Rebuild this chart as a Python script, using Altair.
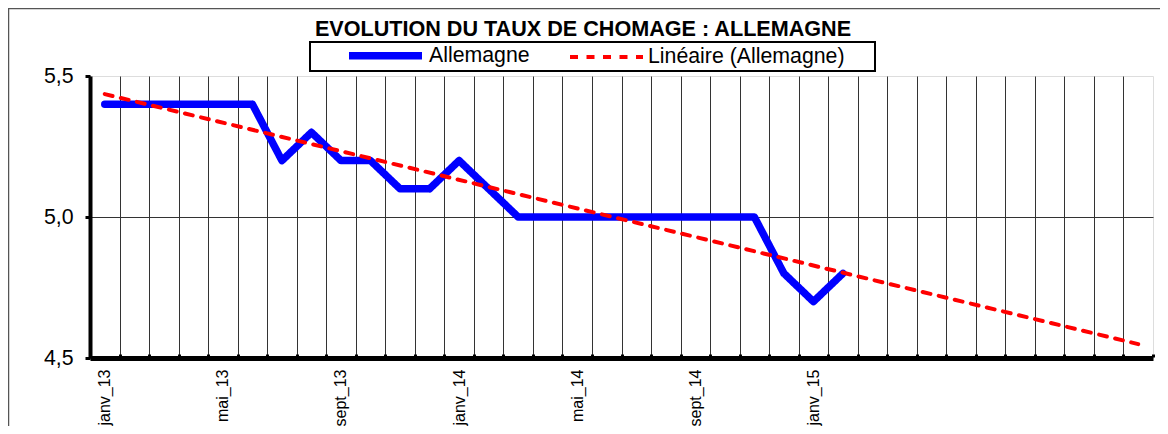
import altair as alt
import pandas as pd

# ---- data ----
months = ["janv_13", "févr_13", "mars_13", "avr_13", "mai_13", "juin_13",
          "juil_13", "août_13", "sept_13", "oct_13", "nov_13", "déc_13",
          "janv_14", "févr_14", "mars_14", "avr_14", "mai_14", "juin_14",
          "juil_14", "août_14", "sept_14", "oct_14", "nov_14", "déc_14",
          "janv_15", "févr_15"]
values = [5.4, 5.4, 5.4, 5.4, 5.4, 5.4, 5.2, 5.3, 5.2, 5.2, 5.1, 5.1,
          5.2, 5.1, 5.0, 5.0, 5.0, 5.0, 5.0, 5.0, 5.0, 5.0, 5.0, 4.8,
          4.7, 4.8]
n_slots = 36                      # category slots on the axis (36 months)
tick_idx = [0, 4, 8, 12, 16, 20, 24]
tick_labels = [months[i] for i in tick_idx]
y_ticks = [4.5, 5.0, 5.5]
series_names = ["Allemagne", "Linéaire (Allemagne)"]
series_colors = ["#0000FF", "#FF0000"]
title_text = "EVOLUTION DU TAUX DE CHOMAGE : ALLEMAGNE"

FONT = "Liberation Sans"
W, H = 1063, 282

df = pd.DataFrame({"idx": list(range(len(values))), "month": months,
                   "value": values, "series": series_names[0]})
boundaries = [i - 0.5 for i in range(n_slots + 1)]

xscale = alt.Scale(domain=[-0.5, n_slots - 0.5], nice=False, zero=False)
yscale = alt.Scale(domain=[4.5, 5.5], nice=False, zero=False)

label_js = "[" + ",".join("'%s'" % s for s in tick_labels) + "][datum.value/4]"

grid_axis = alt.Axis(orient="bottom", values=boundaries, grid=True, gridColor="#333333", gridWidth=1,
                     gridOpacity={"condition": {"test": "datum.value < 35", "value": 1}, "value": 0},
                     domain=False, labels=False, ticks=True, tickSize=3, tickWidth=3,
                     tickColor="black", offset=-4, title=None)
label_axis = alt.Axis(orient="bottom", values=tick_idx, grid=False, ticks=False, domain=True,
                      domainColor="black", domainWidth=5, labelExpr=label_js,
                      labelAngle=270, labelAlign="right", labelBaseline="middle",
                      labelPadding=11, labelFontSize=16, labelFont=FONT,
                      labelColor="black", title=None)
y_axis = alt.Axis(orient="left", values=y_ticks, grid=True, gridColor="#333333", gridWidth=1,
                  gridOpacity={"condition": {"test": "datum.value == 5", "value": 1}, "value": 0},
                  domainColor="black", domainWidth=4, tickColor="black", tickSize=5,
                  tickWidth=3, labelPadding=12, labelFontSize=21.3, labelFont=FONT,
                  labelColor="black",
                  labelExpr="replace(format(datum.value, '.1f'), '.', ',')", title=None)

leg = alt.Legend(orient="none", legendX=255, legendY=-61, direction="horizontal",
                 symbolType="stroke", symbolSize=5329, labelFontSize=21.3, labelFont=FONT,
                 labelColor="black", labelOffset=3, columnPadding=32, padding=0,
                 labelLimit=0, title=None)

enc_common = dict(
    color=alt.Color("series:N", scale=alt.Scale(domain=series_names, range=series_colors), legend=leg),
    strokeDash=alt.StrokeDash("series:N", scale=alt.Scale(domain=series_names, range=[[1, 0], [8, 8.5]]), legend=leg),
    strokeWidth=alt.StrokeWidth("series:N", scale=alt.Scale(domain=series_names, range=[7.5, 4]), legend=leg),
)

one = pd.DataFrame({"k": [0]})
frame = alt.Chart(one).mark_rect(fillOpacity=0, stroke="#555555", strokeWidth=1.5, clip=False).encode(
    x=alt.value(-81.5), x2=alt.value(W + 40), y=alt.value(-67.5), y2=alt.value(H + 120))
legend_box = alt.Chart(one).mark_rect(fillOpacity=0, stroke="black", strokeWidth=2, clip=False).encode(
    x=alt.value(220), x2=alt.value(785), y=alt.value(-34), y2=alt.value(-5))

line = alt.Chart(df).mark_line(strokeCap="round", strokeJoin="round").encode(
    x=alt.X("idx:Q", scale=xscale, axis=grid_axis),
    y=alt.Y("value:Q", scale=yscale, axis=y_axis),
    **enc_common)

trend = alt.Chart(df).transform_regression(
    "idx", "value", method="linear", extent=[0, n_slots - 1]
).transform_calculate(series="'%s'" % series_names[1]).mark_line(strokeCap="round").encode(
    x=alt.X("idx:Q", scale=xscale, axis=label_axis),
    y=alt.Y("value:Q", scale=yscale, axis=y_axis),
    **enc_common)

chart = alt.layer(frame, legend_box, line, trend).resolve_axis(x="independent").properties(
    width=W, height=H,
    autosize=alt.AutoSizeParams(type="none"),
    padding={"left": 82, "top": 68, "right": 7, "bottom": 68},
    title=alt.Title(title_text, fontSize=21.6, fontWeight="bold", font=FONT, color="black",
                    anchor="middle", dx=-38.5, dy=37),
).configure_view(
    stroke="#8c8c8c", strokeWidth=3
).configure(background="white")

chart.save("out.html", embed_options={"renderer": "svg", "actions": False})
